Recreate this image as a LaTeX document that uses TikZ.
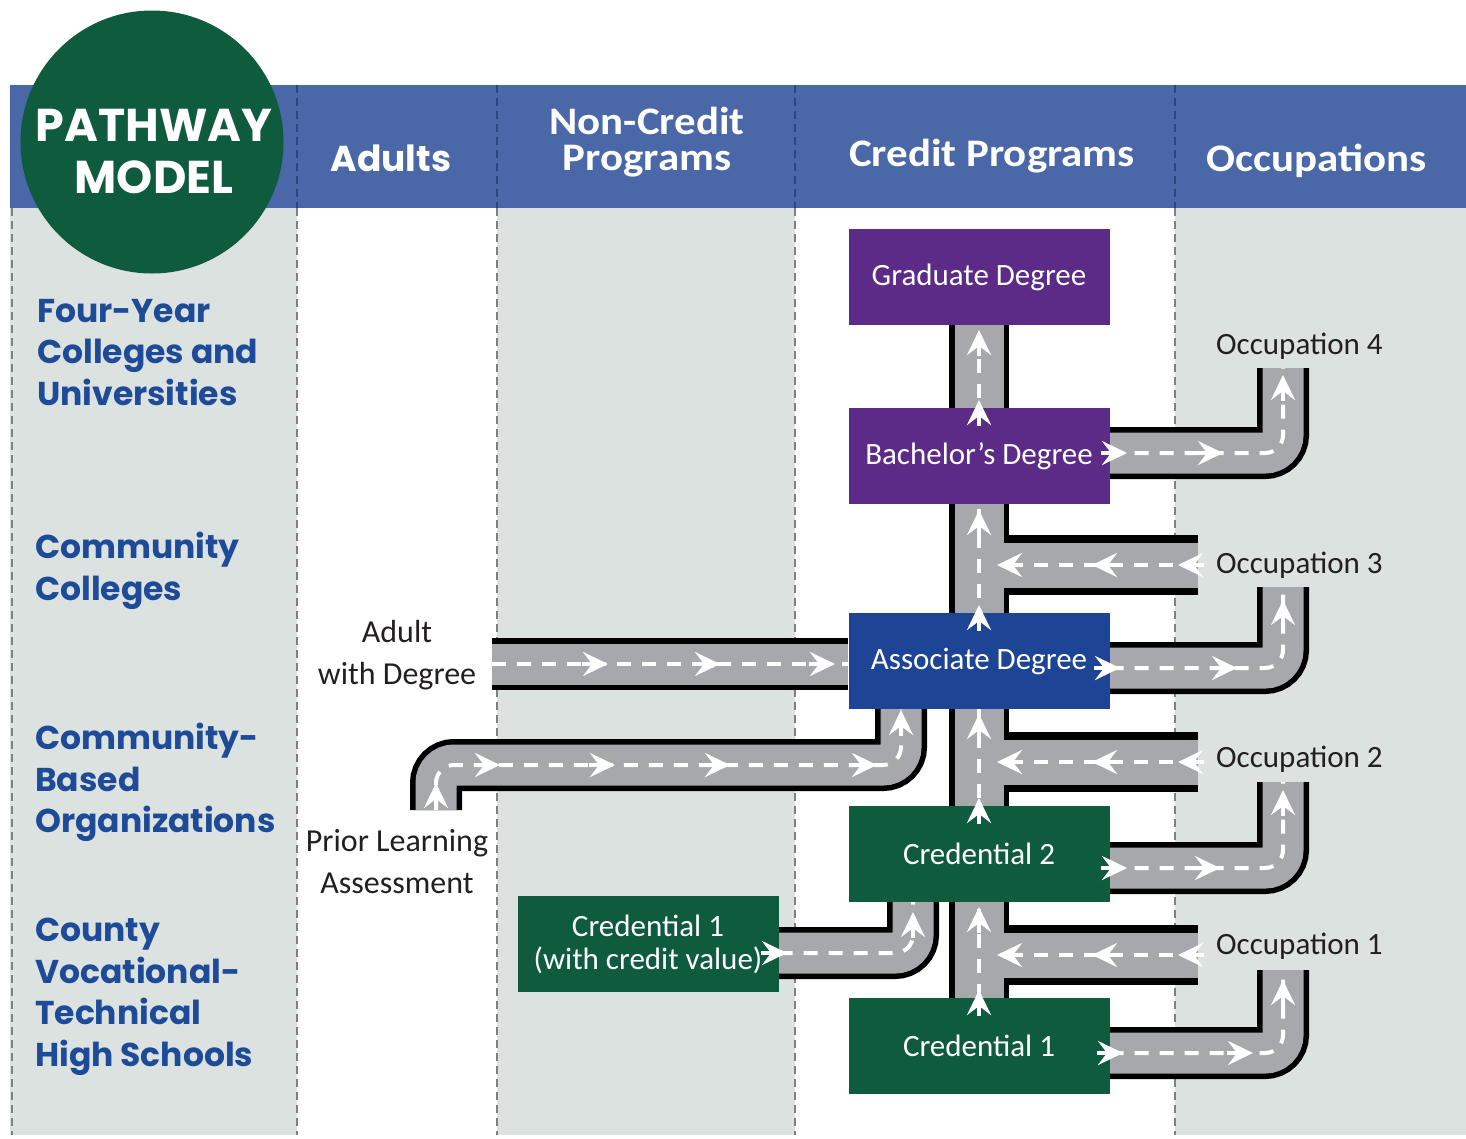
\documentclass[tikz,border=0pt]{standalone}
\usepackage{fontspec}
\setmainfont{Carlito}
\newfontfamily\heavyfont{Poppins}
\newfontfamily\headfont{Carlito}[FakeStretch=1.1]
\usetikzlibrary{arrows.meta,calc}

\definecolor{headblue}{HTML}{4A67A7}
\definecolor{headline}{HTML}{2C477E}
\definecolor{colgray}{HTML}{DCE2DF}
\definecolor{pathgreen}{HTML}{0F5B3D}
\definecolor{degpurple}{HTML}{5B2B87}
\definecolor{assocblue}{HTML}{1D4495}
\definecolor{labelblue}{HTML}{1E4B98}
\definecolor{roadgray}{HTML}{A7A8AB}
\definecolor{inkdark}{HTML}{231F20}

\pgfdeclarelayer{bg}
\pgfdeclarelayer{roads}
\pgfdeclarelayer{front}
\pgfsetlayers{bg,roads,main,front}

\tikzset{
  box/.style={minimum width=261pt, minimum height=96pt, inner sep=0pt, text=white,
    font=\fontsize{31}{33}\selectfont, align=center},
  road/.style={draw=roadgray, line width=41pt, rounded corners=18pt,
    preaction={draw=black, line width=52pt},
    postaction={draw=white, line width=4pt, dash pattern=on 14pt off 11pt}},
  wideroad/.style={draw=roadgray, line width=49pt,
    preaction={draw=black, line width=60pt},
    postaction={draw=white, line width=4pt, dash pattern=on 14pt off 11pt}},
  chev/.style={draw=white, line width=4pt, -{Stealth[length=25pt, width=24pt, inset=9pt]}},
  colline/.style={draw=black!50, line width=1.8pt, dash pattern=on 8pt off 5pt},
  headdash/.style={draw=headline, line width=1.8pt, dash pattern=on 8pt off 5pt},
  headtext/.style={text=white, font=\headfont\bfseries\fontsize{39}{36}\selectfont, align=center},
  sidelabel/.style={text=labelblue, anchor=north west, inner sep=0pt, align=left,
    font=\heavyfont\bfseries\fontsize{33}{41.5}\selectfont},
  plainlabel/.style={text=inkdark, align=center, font=\fontsize{32}{42}\selectfont},
  occlabel/.style={text=inkdark, anchor=west, inner sep=0pt, font=\fontsize{31}{33}\selectfont}
}

\begin{document}
\begin{tikzpicture}[x=1pt, y=-1pt]
\useasboundingbox (0,0) rectangle (1466,1138);

% columns and header band
\begin{pgfonlayer}{bg}
  \fill[headblue] (10,85) rectangle (1466,208);
  \fill[colgray] (10,208) rectangle (297,1135);
  \fill[colgray] (497,208) rectangle (795,1135);
  \fill[colgray] (1175,208) rectangle (1466,1135);
  \draw[colline] (12,208) -- (12,1135);
  \foreach \x in {297,497,795,1175} {
    \draw[headdash] (\x,85) -- (\x,208);
    \draw[colline] (\x,208) -- (\x,1135);
  }
\end{pgfonlayer}

\node[circle, fill=pathgreen, minimum size=263pt, inner sep=0pt] (pathway) at (152,142) {};
\node[text=white, font=\heavyfont\bfseries\fontsize{46}{52}\selectfont, align=center] (pathwaytext) at (154,152) {PATHWAY\\MODEL};

\node[headtext, font=\heavyfont\bfseries\fontsize{36}{36}\selectfont] (hadults) at (391,158) {Adults};
\node[headtext] (hnoncredit) at (647,142) {Non-Credit\\Programs};
\node[headtext] (hcredit) at (992,156) {Credit Programs};
\node[headtext] (hocc) at (1317,161) {Occupations};

\node[sidelabel] (fouryear) at (37,299) {Four-Year\\Colleges and\\Universities};
\node[sidelabel] (community) at (35,532) {Community\\Colleges};
\node[sidelabel] (cbo) at (35,723) {Community-\\Based\\Organizations};
\node[sidelabel] (county) at (35,918) {County\\Vocational-\\Technical\\High Schools};

% credit boxes
\node[box, fill=degpurple] (grad) at (979,277) {Graduate Degree};
\node[box, fill=degpurple] (bach) at (979,456) {Bachelor’s Degree};
\node[box, fill=assocblue] (assoc) at (979,661) {Associate Degree};
\node[box, fill=pathgreen] (cred2) at (979,854) {Credential 2};
\node[box, fill=pathgreen] (cred1) at (979,1046) {Credential 1};
\node[box, fill=pathgreen] (credval) at (648,944) {Credential 1\\(with credit value)};

\node[plainlabel] (adult) at (397,655) {Adult\\with Degree};
\node[plainlabel] (prior) at (397,862) {Prior Learning\\Assessment};

\node[occlabel] (occ4) at (1216,346) {Occupation 4};
\node[occlabel] (occ3) at (1216,565) {Occupation 3};
\node[occlabel] (occ2) at (1216,759) {Occupation 2};
\node[occlabel] (occ1) at (1216,946) {Occupation 1};

\coordinate (trunkside) at (1004,0);
\coordinate (in3) at (1198,565);
\coordinate (in2) at (1198,762);
\coordinate (in1) at (1198,955);
\coordinate (up4) at (1283,368);
\coordinate (up3) at (1283,587);
\coordinate (up2) at (1283,782);
\coordinate (up1) at (1283,970);
\coordinate (adultin) at (492,664);
\coordinate (priorin) at (436,810);
\coordinate (priorturn) at (901,765);

% roads
\begin{pgfonlayer}{roads}
  \draw[wideroad] (cred1.north) -- (grad.south);
  \foreach \n in {1,2,3}
    \draw[wideroad, line width=45pt, preaction={draw=black, line width=56pt}] (in\n) -- (in\n -| trunkside);
  \draw[road] ([yshift=3pt]bach.east) -| (up4);
  \draw[road] ([yshift=-7pt]assoc.east) -| (up3);
  \draw[road] ([yshift=-14pt]cred2.east) -| (up2);
  \draw[road] ([yshift=-7pt]cred1.east) -| (up1);
  \draw[road] (adultin) -- (adultin -| assoc.west);
  \draw[road] (priorin) |- (priorturn) -- (priorturn |- assoc.south);
  \draw[road] ([yshift=-9pt]credval.east) -| ([xshift=-66pt]cred2.south);
\end{pgfonlayer}

% arrow heads on the roads
\begin{pgfonlayer}{front}
  \foreach \y in {990,907,798,714,605,510,400,330}
    \draw[chev] (979,\y+26) -- (979,\y);
  \foreach \x/\y in {1127/453,1223/453,1120/668,1237/668,1127/868,1220/868,1123/1053,1253/1053}
    \draw[chev] (\x-26,\y) -- (\x,\y);
  \foreach \y in {375,600,790,980}
    \draw[chev] (1283,\y+26) -- (1283,\y);
  \foreach \y in {565,762,955}
    \foreach \x in {997,1092,1178}
      \draw[chev] (\x+26,\y) -- (\x,\y);
  \foreach \x in {608,720,835}
    \draw[chev] (\x-26,664) -- (\x,664);
  \foreach \x in {500,615,730,877}
    \draw[chev] (\x-26,765) -- (\x,765);
  \draw[chev] (436,809) -- (436,783);
  \draw[chev] (901,736) -- (901,710);
  \draw[chev] (761,953) -- (787,953);
  \draw[chev] (913,938) -- (913,912);
\end{pgfonlayer}

\end{tikzpicture}
\end{document}
